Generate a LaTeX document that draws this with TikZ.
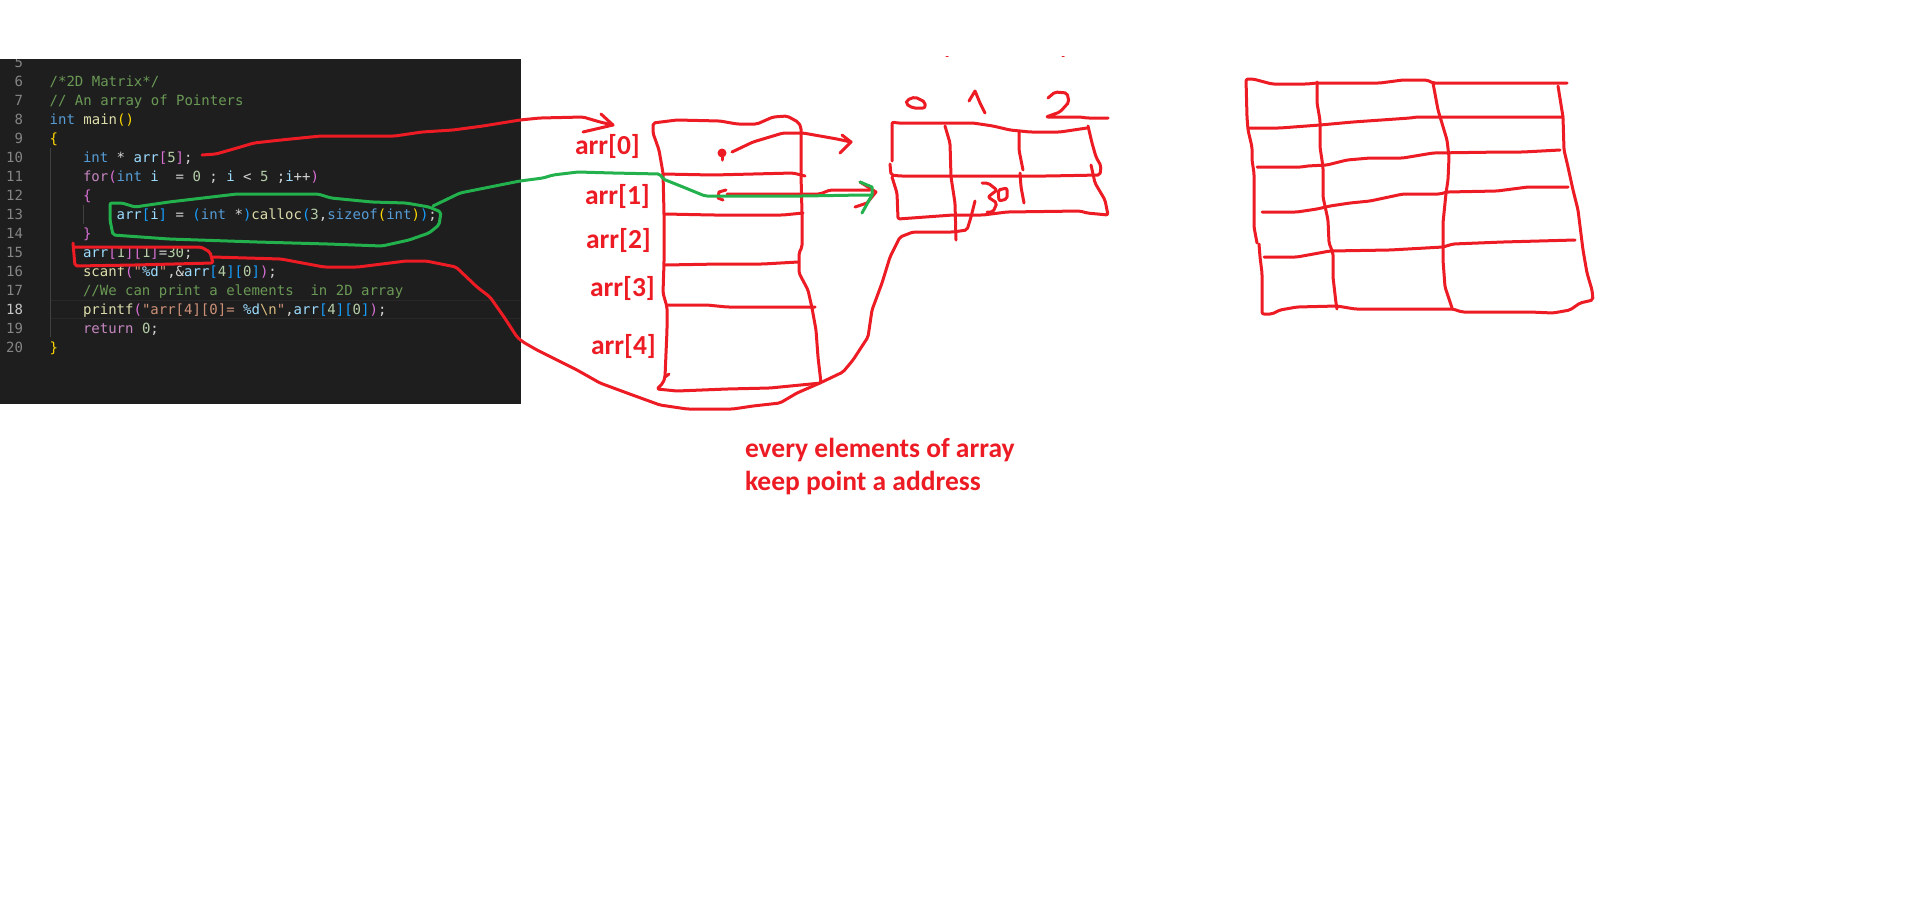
\documentclass[tikz,border=0pt]{standalone}
\usepackage{fontspec}
\setmainfont{Carlito}
\newfontfamily\codefont{DejaVu Sans Mono}
\definecolor{panelbg}{HTML}{1E1E1E}
\definecolor{pred}{HTML}{ED1C24}
\definecolor{pgreen}{HTML}{22B14C}
\definecolor{ckw}{HTML}{569CD6}
\definecolor{ccm}{HTML}{6A9955}
\definecolor{cfn}{HTML}{DCDCAA}
\definecolor{cpu}{HTML}{C586C0}
\definecolor{cva}{HTML}{9CDCFE}
\definecolor{cnu}{HTML}{B5CEA8}
\definecolor{cst}{HTML}{CE9178}
\definecolor{cgo}{HTML}{FFD700}
\definecolor{cor}{HTML}{DA70D6}
\definecolor{cbl}{HTML}{179FFF}
\definecolor{cwh}{HTML}{D4D4D4}
\definecolor{cesc}{HTML}{D7BA7D}
\definecolor{lnum}{HTML}{858585}
\definecolor{lnumhi}{HTML}{C6C6C6}
\definecolor{guide}{HTML}{404040}
\definecolor{hiline}{HTML}{282828}
\newcommand{\kW}[1]{\textcolor{ckw}{#1}}
\newcommand{\cM}[1]{\textcolor{ccm}{#1}}
\newcommand{\fN}[1]{\textcolor{cfn}{#1}}
\newcommand{\pU}[1]{\textcolor{cpu}{#1}}
\newcommand{\vA}[1]{\textcolor{cva}{#1}}
\newcommand{\nU}[1]{\textcolor{cnu}{#1}}
\newcommand{\sT}[1]{\textcolor{cst}{#1}}
\newcommand{\gO}[1]{\textcolor{cgo}{#1}}
\newcommand{\oR}[1]{\textcolor{cor}{#1}}
\newcommand{\bL}[1]{\textcolor{cbl}{#1}}
\newcommand{\wH}[1]{\textcolor{cwh}{#1}}
\tikzset{
  codeline/.style={anchor=base west,inner sep=0pt,outer sep=0pt,font=\codefont\fontsize{14}{14}\selectfont},
  linenum/.style={anchor=base east,inner sep=0pt,outer sep=0pt,text=lnum,font=\codefont\fontsize{14}{14}\selectfont},
  redpen/.style={draw=pred,line width=3pt,line cap=round,line join=round,rounded corners=2pt},
  greenpen/.style={draw=pgreen,line width=3pt,line cap=round,line join=round,rounded corners=2pt},
  thinpen/.style={draw=pred,line width=3pt,line cap=round,line join=round},
  arrlabel/.style={anchor=west,inner sep=0pt,outer sep=0pt,text=pred,font=\fontsize{27.5}{27.5}\selectfont\bfseries},
  notelabel/.style={anchor=north west,inner sep=0pt,outer sep=0pt,text=pred,align=left,font=\fontsize{27.5}{33}\selectfont\bfseries},
}
\begin{document}
\begin{tikzpicture}[x=1pt,y=-1pt]
\useasboundingbox (0,0) rectangle (1914,906);
\fill[white] (0,0) rectangle (1914,906);
\fill[panelbg] (0,59) rectangle (521,404);
\begin{scope}
\clip (0,59) rectangle (521,404);
% highlight and guides
\draw[hiline,line width=1pt] (50,300) -- (521,300) (50,318) -- (521,318);
\draw[guide,line width=1pt] (50,148) -- (50,337);
\draw[guide,line width=1pt] (83.5,205) -- (83.5,224);
\node[linenum] (n5) at (23,67.7) {5};
\node[linenum] (n6) at (23,86.7) {6};
\node[linenum] (n7) at (23,105.7) {7};
\node[linenum] (n8) at (23,124.7) {8};
\node[linenum] (n9) at (23,143.7) {9};
\node[linenum] (n10) at (23,162.7) {10};
\node[linenum] (n11) at (23,181.7) {11};
\node[linenum] (n12) at (23,200.7) {12};
\node[linenum] (n13) at (23,219.7) {13};
\node[linenum] (n14) at (23,238.7) {14};
\node[linenum] (n15) at (23,257.7) {15};
\node[linenum] (n16) at (23,276.7) {16};
\node[linenum] (n17) at (23,295.7) {17};
\node[linenum,text=lnumhi] (n18) at (23,314.7) {18};
\node[linenum] (n19) at (23,333.7) {19};
\node[linenum] (n20) at (23,352.7) {20};
\node[codeline] (c6) at (49.7,86.7) {\cM{/*2D Matrix*/}};
\node[codeline] (c7) at (49.7,105.7) {\cM{// An array of Pointers}};
\node[codeline] (c8) at (49.7,124.7) {\kW{int}~\fN{main}\gO{()}};
\node[codeline] (c9) at (49.7,143.7) {\gO{\{}};
\node[codeline] (c10) at (83,162.7) {\kW{int}~\wH{*}~\vA{arr}\oR{[}\nU{5}\oR{]}\wH{;}};
\node[codeline] (c11) at (83,181.7) {\pU{for}\oR{(}\kW{int}~\vA{i}~~\wH{=}~\nU{0}~\wH{;}~\vA{i}~\wH{<}~\nU{5}~\wH{;}\vA{i}\wH{++}\oR{)}};
\node[codeline] (c12) at (83,200.7) {\oR{\{}};
\node[codeline] (c13) at (116.6,219.7) {\vA{arr}\bL{[}\vA{i}\bL{]}~\wH{=}~\bL{(}\kW{int}~\wH{*}\bL{)}\fN{calloc}\bL{(}\nU{3}\wH{,}\kW{sizeof}\gO{(}\kW{int}\gO{)}\bL{)}\wH{;}};
\node[codeline] (c14) at (83,238.7) {\oR{\}}};
\node[codeline] (c15) at (83,257.7) {\vA{arr}\oR{[}\nU{1}\oR{]}\oR{[}\nU{1}\oR{]}\wH{=}\nU{30}\wH{;}};
\node[codeline] (c16) at (83,276.7) {\fN{scanf}\oR{(}\sT{"}\vA{\%d}\sT{"}\wH{,\&}\vA{arr}\bL{[}\nU{4}\bL{]}\bL{[}\nU{0}\bL{]}\oR{)}\wH{;}};
\node[codeline] (c17) at (83,295.7) {\cM{//We can print a elements~~in 2D array}};
\node[codeline] (c18) at (83,314.7) {\fN{printf}\oR{(}\sT{"arr[4][0]=~}\vA{\%d}\textcolor{cesc}{\textbackslash n}\sT{"}\wH{,}\vA{arr}\bL{[}\nU{4}\bL{]}\bL{[}\nU{0}\bL{]}\oR{)}\wH{;}};
\node[codeline] (c19) at (83,333.7) {\pU{return}~\nU{0}\wH{;}};
\node[codeline] (c20) at (49.7,352.7) {\gO{\}}};
\end{scope}
% array labels
\node[arrlabel] (a0) at (575,146) {arr[0]};
\node[arrlabel] (a1) at (585,196) {arr[1]};
\node[arrlabel] (a2) at (586,240) {arr[2]};
\node[arrlabel] (a3) at (590,288.5) {arr[3]};
\node[arrlabel] (a4) at (591,346.5) {arr[4]};
\node[notelabel] (note) at (745,438) {every elements of array\\keep point a address};
% red arrow from int * arr[5]
\draw[redpen] (202,155) -- (216,154) -- (237,148) -- (254,143) -- (281,140) -- (321,136) -- (395,136) -- (422,132) -- (453,130) -- (483,126) -- (520,120) -- (540,118) -- (583,117) -- (600,122) -- (613,125);
\draw[thinpen] (601,114) -- (613,125) -- (583,132);
% green loop
\draw[greenpen] (110,203) -- (122,203) -- (135,207) -- (169,202) -- (237,194) -- (318,194) -- (331,198) -- (372,202) -- (406,203) -- (429,207) -- (441,212) -- (439,225) -- (429,233) -- (409,240) -- (382,246) -- (328,244) -- (257,242) -- (169,239) -- (113,235) -- (110,220) -- cycle;
% red box around arr[1][1]
\draw[redpen] (73,243) -- (75,266) -- (135,265) -- (213,263) -- (210,252) -- (201,247) -- (135,247) -- (75,247);
% big red tail
\draw[redpen] (213,257) -- (281,259) -- (324,267) -- (358,267) -- (406,261) -- (426,261) -- (456,267) -- (477,287) -- (490,297) -- (504,317) -- (517,337) -- (523,342) -- (537,350) -- (557,360) -- (577,370) -- (600,383) -- (627,393) -- (660,405) -- (687,409) -- (733,409) -- (753,406) -- (780,403) -- (797,393) -- (820,383) -- (843,372) -- (853,360) -- (868,337) -- (872,310) -- (882,283) -- (890,257) -- (900,237) -- (913,232) -- (953,232) -- (967,230) -- (971,217) -- (975,201);
% array column
\draw[redpen] (653,123) -- (677,120) -- (720,121) -- (737,124) -- (757,124) -- (773,117) -- (787,116) -- (798,122) -- (801,127) -- (801,175) -- (802,213) -- (802,247) -- (799,253) -- (799,273) -- (808,290) -- (812,308) -- (816,330) -- (818,357) -- (821,383) -- (770,388) -- (727,389) -- (677,391) -- (657,389) -- (663,383) -- (665,377) -- (667,330) -- (667,307) -- (663,293) -- (664,263) -- (664,213) -- (663,173) -- (659,150) -- (653,133) -- cycle;
\draw[thinpen] (669,374) -- (665,377);
\draw[redpen] (663,174) -- (713,175) -- (793,173) -- (805,176);
\draw[redpen] (665,214) -- (713,215) -- (783,215) -- (803,213);
\draw[redpen] (665,265) -- (720,264) -- (763,264) -- (798,262);
\draw[redpen] (667,305) -- (707,305) -- (727,307) -- (815,307);
% dot and pointer arrow of arr[0]
\fill[pred] (722,153) circle (4.5pt);
\draw[thinpen] (722,153) -- (722,160);
\draw[redpen] (732,152) -- (753,142) -- (783,133) -- (803,133) -- (837,139) -- (851,142);
\draw[thinpen] (842,135) -- (851,142) -- (840,153);
% pointer arrow of arr[1]
\draw[thinpen] (726,190) -- (719,192) -- (718,198) -- (723,200);
\draw[redpen] (727,194) -- (820,194) -- (830,190) -- (870,190);
\draw[thinpen] (855,207) -- (867,203) -- (876,192) -- (860,182);
% green connector
\draw[greenpen] (433,206) -- (460,193) -- (490,187) -- (520,181) -- (543,178) -- (553,175) -- (578,172) -- (613,173) -- (660,174) -- (663,179) -- (683,187) -- (705,196) -- (803,196) -- (863,195) -- (872,195);
\draw[thinpen,draw=pgreen] (860,182) -- (872,187) -- (872,195) -- (862,213);
% index marks
\draw[thinpen,line width=1pt] (946,56) -- (948,56) (1062,56) -- (1064,56);
\draw[redpen] (907,100) -- (915,97) -- (925,102) -- (925,108) -- (913,108) -- (906,104) -- cycle;
\draw[thinpen] (969,101) -- (975,91) -- (980,103) -- (985,113);
\draw[redpen] (1048,98) -- (1055,92) -- (1067,93) -- (1069,102) -- (1060,112) -- (1046,117) -- (1080,117) -- (1087,118) -- (1108,118);
% small table
\draw[redpen] (892,161) -- (892,122) -- (897,123) -- (973,123) -- (993,126) -- (1010,130) -- (1030,132) -- (1060,132) -- (1087,128);
\draw[redpen] (890,164) -- (891,175) -- (900,176) -- (950,176) -- (1047,176) -- (1100,175) -- (1101,166) -- (1096,157) -- (1092,143) -- (1088,126);
\draw[redpen] (892,177) -- (897,193) -- (898,219) -- (953,215) -- (983,215) -- (1007,212) -- (1080,211) -- (1087,213) -- (1108,215) -- (1105,200) -- (1095,183) -- (1091,165);
\draw[redpen] (945,126) -- (950,143) -- (951,177) -- (955,203) -- (956,240);
\draw[redpen] (1019,131) -- (1019,150) -- (1023,170);
\draw[redpen] (1020,173) -- (1021,187) -- (1024,203);
\draw[redpen] (982,183) -- (988,183) -- (997,190) -- (988,197) -- (997,203) -- (993,212) -- (987,212);
\draw[redpen] (998,190) -- (1007,188) -- (1007,199) -- (999,201) -- cycle;
% big table
\draw[redpen] (1257,243) -- (1254,227) -- (1254,173) -- (1252,160) -- (1252,147) -- (1248,130) -- (1247,117) -- (1246,79) -- (1253,79) -- (1272,84) -- (1307,84) -- (1317,83) -- (1380,83) -- (1403,80) -- (1427,80) -- (1433,83) -- (1493,83) -- (1500,83) -- (1567,83);
\draw[redpen] (1259,244) -- (1260,257) -- (1262,273) -- (1262,314) -- (1272,314) -- (1280,310) -- (1297,307) -- (1337,306) -- (1355,309) -- (1453,309) -- (1462,312) -- (1530,312) -- (1553,313) -- (1570,310) -- (1580,303) -- (1593,300) -- (1592,290) -- (1587,273) -- (1583,250) -- (1578,210) -- (1573,190) -- (1568,167) -- (1564,150) -- (1563,117) -- (1558,86);
\draw[redpen] (1317,82) -- (1317,103) -- (1320,120) -- (1320,147) -- (1323,167) -- (1323,197) -- (1328,220) -- (1329,243) -- (1333,253) -- (1333,277) -- (1336,303) -- (1337,309);
\draw[redpen] (1433,83) -- (1438,110) -- (1447,140) -- (1449,157) -- (1448,180) -- (1446,193) -- (1443,223) -- (1443,260) -- (1445,287) -- (1452,308);
\draw[redpen] (1249,128) -- (1280,128) -- (1320,125) -- (1353,122) -- (1410,118) -- (1417,117) -- (1563,117);
\draw[redpen] (1257,167) -- (1302,167) -- (1307,166) -- (1327,165) -- (1347,160) -- (1370,158) -- (1403,158) -- (1433,153) -- (1503,152) -- (1523,152) -- (1560,150);
\draw[redpen] (1262,212) -- (1297,212) -- (1317,209) -- (1330,206) -- (1350,203) -- (1370,201) -- (1403,194) -- (1440,194) -- (1447,192) -- (1497,191) -- (1528,187) -- (1568,187);
\draw[redpen] (1264,257) -- (1297,257) -- (1330,251) -- (1390,250) -- (1443,247) -- (1453,244) -- (1503,242) -- (1575,240);
\end{tikzpicture}
\end{document}
